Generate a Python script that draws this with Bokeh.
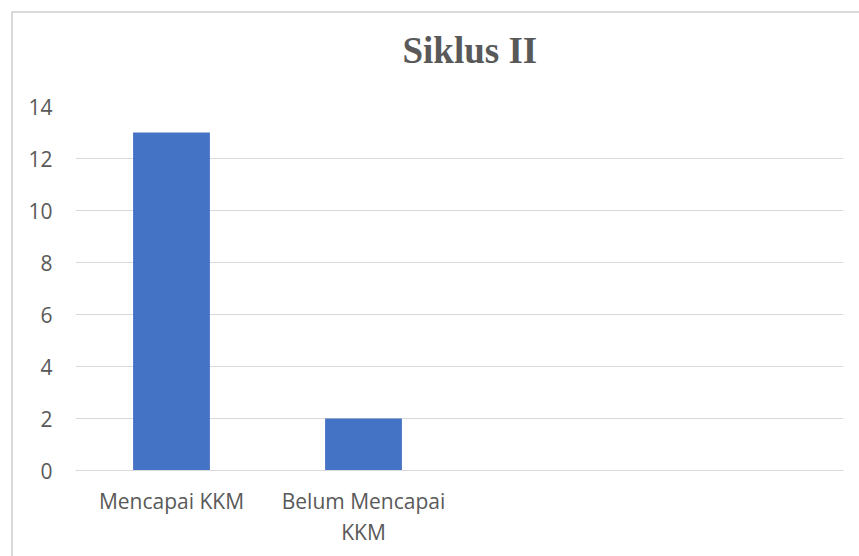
from bokeh.plotting import figure
from bokeh.models import CategoricalAxis, FixedTicker, Title, CustomJSTickFormatter
from bokeh.embed import file_html
from bokeh.resources import INLINE

# ---- data ----
categories = ["Mencapai KKM", "Belum Mencapai KKM"]
values = [13, 2]
empty_slots = [" ", "  "]
y_ticks = [0, 2, 4, 6, 8, 10, 12, 14]
line1_labels = {"Mencapai KKM": "Mencapai KKM", "Belum Mencapai KKM": "Belum Mencapai"}
line2_labels = {"Mencapai KKM": "", "Belum Mencapai KKM": "KKM"}
title_text = "Siklus II"

GRID = "#d9d9d9"
TXT = "#595959"
FONT = "Open Sans"
FS = "21px"

p = figure(
    x_range=categories + empty_slots,
    y_range=(0, 14),
    frame_width=768,
    frame_height=364,
    min_border_left=62,
    min_border_right=16,
    min_border_top=0,
    min_border_bottom=86,
    output_backend="svg",
    toolbar_location=None,
    background_fill_color="white",
    border_fill_color="white",
    outline_line_color=None,
)
p.margin = (11, 0, 0, 11)
p.styles = {"border-left": "2px solid #d9d9d9", "border-top": "2px solid #d9d9d9"}

p.vbar(x=categories, top=values, width=0.4, color="#4472C4", line_color=None)

# spacer between title and plot area (nearest to frame), then the title
spacer = Title(text=" ", text_font_size="18px", standoff=0)
p.add_layout(spacer, "above")
t = Title(text=title_text, align="left", offset=327, text_font="Liberation Serif",
          text_font_style="bold", text_font_size="37px", text_color=TXT, standoff=28)
p.add_layout(t, "above")

# y axis
p.yaxis.ticker = FixedTicker(ticks=y_ticks)
p.yaxis.axis_line_color = None
p.yaxis.major_tick_line_color = None
p.yaxis.minor_tick_line_color = None
p.yaxis.major_label_text_font = FONT
p.yaxis.major_label_text_font_size = FS
p.yaxis.major_label_text_color = TXT
p.yaxis.major_label_standoff = 17

p.ygrid.grid_line_color = GRID
p.ygrid.grid_line_width = 1
p.xgrid.grid_line_color = None

js = "return labels[tick] ?? '';"

# x axis line 1
xa = p.xaxis[0]
xa.axis_line_color = GRID
xa.major_tick_line_color = None
xa.minor_tick_line_color = None
xa.major_label_text_font = FONT
xa.major_label_text_font_size = FS
xa.major_label_text_color = TXT
xa.major_label_standoff = 10
xa.formatter = CustomJSTickFormatter(args=dict(labels=line1_labels), code=js)

# x axis line 2
xa2 = CategoricalAxis(axis_line_color=None, major_tick_line_color=None,
                      minor_tick_line_color=None, major_label_text_font=FONT,
                      major_label_text_font_size=FS, major_label_text_color=TXT,
                      major_label_standoff=-6,
                      formatter=CustomJSTickFormatter(args=dict(labels=line2_labels), code=js))
p.add_layout(xa2, "below")

open("out.html", "w").write(file_html(p, INLINE))
